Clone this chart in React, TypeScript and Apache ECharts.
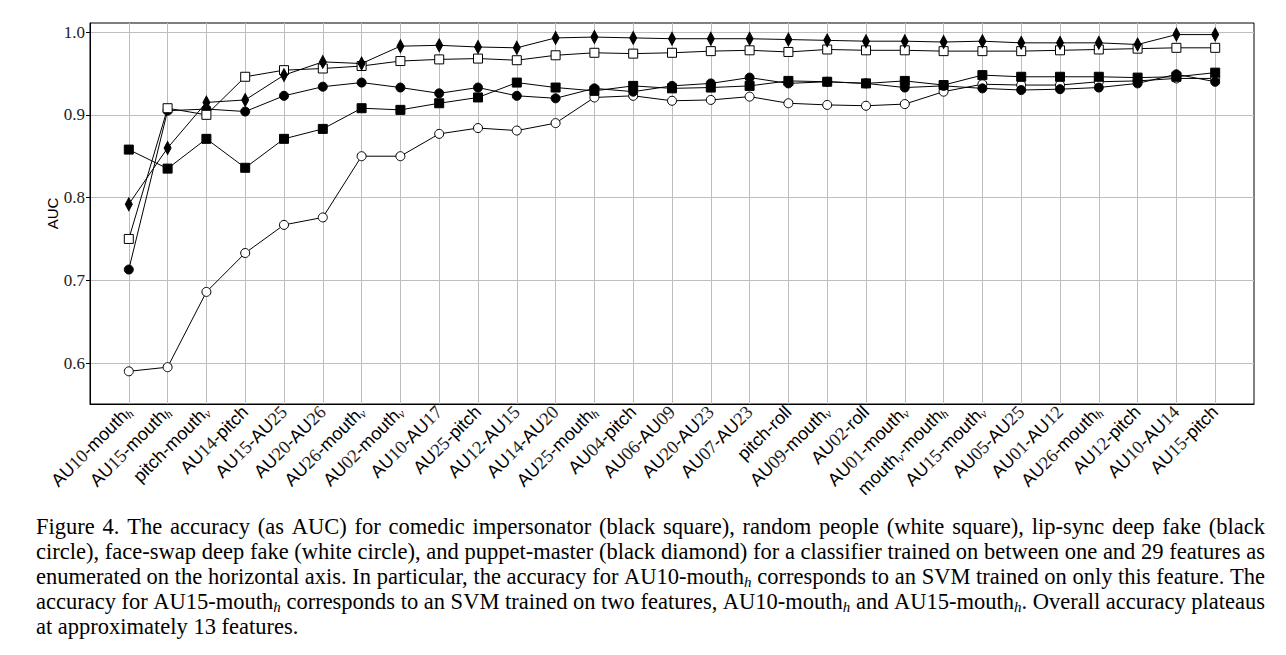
import React, { useEffect, useRef } from "react";
import * as echarts from "echarts";

const features = [
  "AU10-mouth_h", "AU15-mouth_h", "pitch-mouth_v", "AU14-pitch", "AU15-AU25", "AU20-AU26",
  "AU26-mouth_v", "AU02-mouth_v", "AU10-AU17", "AU25-pitch", "AU12-AU15", "AU14-AU20",
  "AU25-mouth_h", "AU04-pitch", "AU06-AU09", "AU20-AU23", "AU07-AU23", "pitch-roll",
  "AU09-mouth_v", "AU02-roll", "AU01-mouth_v", "mouth_v-mouth_h", "AU15-mouth_v", "AU05-AU25",
  "AU01-AU12", "AU26-mouth_h", "AU12-pitch", "AU10-AU14", "AU15-pitch",
];

// black square
const comedicImpersonator = [
  0.858, 0.835, 0.871, 0.836, 0.871, 0.883, 0.908, 0.906, 0.914, 0.921, 0.939, 0.933, 0.929, 0.935, 0.932,
  0.933, 0.935, 0.941, 0.940, 0.938, 0.941, 0.936, 0.948, 0.946, 0.946, 0.946, 0.945, 0.946, 0.951,
];
// white square
const randomPeople = [
  0.750, 0.908, 0.900, 0.946, 0.954, 0.956, 0.959, 0.965, 0.967, 0.968, 0.966, 0.972, 0.975, 0.974, 0.975,
  0.977, 0.978, 0.976, 0.979, 0.978, 0.978, 0.977, 0.977, 0.977, 0.978, 0.979, 0.980, 0.981, 0.981,
];
// black circle
const lipSync = [
  0.713, 0.905, 0.907, 0.904, 0.923, 0.934, 0.939, 0.933, 0.926, 0.933, 0.923, 0.920, 0.932, 0.928, 0.935,
  0.938, 0.945, 0.938, 0.940, 0.938, 0.933, 0.935, 0.932, 0.930, 0.931, 0.933, 0.938, 0.949, 0.940,
];
// white circle
const faceSwap = [
  0.590, 0.595, 0.686, 0.733, 0.767, 0.776, 0.850, 0.850, 0.877, 0.884, 0.881, 0.890, 0.921, 0.923, 0.917,
  0.918, 0.922, 0.914, 0.912, 0.911, 0.913, 0.928, 0.937, 0.936, 0.936, 0.940, 0.941, 0.944, 0.944,
];
// black diamond
const puppetMaster = [
  0.792, 0.860, 0.915, 0.918, 0.948, 0.964, 0.962, 0.983, 0.984, 0.982, 0.981, 0.993, 0.994, 0.993, 0.992,
  0.992, 0.992, 0.991, 0.990, 0.989, 0.989, 0.988, 0.989, 0.987, 0.987, 0.987, 0.985, 0.997, 0.997,
];

const yTicks = [0.6, 0.7, 0.8, 0.9, 1.0];
const yName = "AUC";

const captionLines = [
  "Figure 4. The accuracy (as AUC) for comedic impersonator (black square), random people (white square), lip-sync deep fake (black",
  "circle), face-swap deep fake (white circle), and puppet-master (black diamond) for a classifier trained on between one and 29 features as",
  "enumerated on the horizontal axis. In particular, the accuracy for AU10-mouth_h corresponds to an SVM trained on only this feature. The",
  "accuracy for AU15-mouth_h corresponds to an SVM trained on two features, AU10-mouth_h and AU15-mouth_h. Overall accuracy plateaus",
  "at approximately 13 features.",
];

const SANS = '"Liberation Sans", Arial, sans-serif';
const SERIF = '"Liberation Serif", "Times New Roman", serif';
const CAP_FS = 22.5;
const CAP_SUB_FS = 15;

function richLabel(s: string): string {
  const out: string[] = [];
  const re = /(\d+)|_([a-z])|([^\d_]+)/g;
  let m: RegExpExecArray | null;
  while ((m = re.exec(s))) {
    if (m[1]) out.push(`{d|${m[1]}}`);
    else if (m[2]) out.push(`{sub|${m[2]}}`);
    else out.push(`{s|${m[3]}}`);
  }
  return out.join("");
}

function captionRich(w: string): string {
  const parts = w.split(/_([a-z])/);
  return parts
    .map((p, i) => (p === "" ? "" : i % 2 ? `{ci|${p}}` : `{c|${p}}`))
    .join("");
}

export default function App() {
  const ref = useRef<HTMLDivElement>(null);

  useEffect(() => {
    if (!ref.current) return;
    const chart = echarts.init(ref.current, undefined, { renderer: "svg" });

    const canvas = document.createElement("canvas");
    const ctx = canvas.getContext("2d")!;
    const wordWidth = (w: string) => {
      let total = 0;
      w.split(/_([a-z])/).forEach((p, i) => {
        ctx.font = i % 2 ? `italic ${CAP_SUB_FS}px ${SERIF}` : `${CAP_FS}px ${SERIF}`;
        total += ctx.measureText(p).width;
      });
      return total;
    };

    const capLeft = 36;
    const capRight = 1265;
    const capTop = 526.5;
    const capStep = 24.9;
    const captionRichStyles = {
      c: { fontSize: CAP_FS, fontFamily: SERIF, color: "#000", lineHeight: 26 },
      ci: { fontSize: CAP_SUB_FS, fontFamily: SERIF, fontStyle: "italic", color: "#000", lineHeight: 15, verticalAlign: "bottom" },
    };
    const graphics: any[] = [];
    captionLines.forEach((line, li) => {
      const words = line.split(" ");
      const widths = words.map(wordWidth);
      const sum = widths.reduce((a, b) => a + b, 0);
      const last = li === captionLines.length - 1;
      ctx.font = `${CAP_FS}px ${SERIF}`;
      const gap = last ? ctx.measureText(" ").width : (capRight - capLeft - sum) / (words.length - 1);
      let x = capLeft;
      words.forEach((w, i) => {
        graphics.push({
          type: "text",
          x,
          y: capTop + li * capStep,
          silent: true,
          style: {
            text: captionRich(w),
            rich: captionRichStyles,
            fontSize: CAP_FS,
            fontFamily: SERIF,
            fill: "#000",
            align: "left",
            verticalAlign: "middle",
          },
        });
        x += widths[i] + gap;
      });
    });

    const idx = features.map((_, i) => i);
    const mk = (name: string, data: number[], symbol: string, size: any, fill: string, z: number) => ({
      name,
      type: "line",
      data: data.map((v, i) => [i, v]),
      symbol,
      symbolSize: size,
      showSymbol: true,
      showAllSymbol: true,
      lineStyle: { color: "#000", width: 1 },
      itemStyle: { color: fill, borderColor: "#000", borderWidth: 1, opacity: 1 },
      emphasis: { disabled: true },
      z,
    });

    chart.setOption({
      animation: false,
      backgroundColor: "#fff",
      grid: {
        left: 90,
        right: 32,
        top: 23,
        bottom: 251,
        show: true,
        borderColor: "#000",
        borderWidth: 1,
        backgroundColor: "transparent",
      },
      xAxis: {
        type: "value",
        min: -1,
        max: 29,
        axisLine: { show: true, onZero: false, lineStyle: { color: "#000", width: 1 } },
        axisTick: { show: false, customValues: idx },
        splitLine: { show: true, lineStyle: { color: "#bdbdbd", width: 1 } },
        axisLabel: {
          customValues: idx,
          rotate: 45,
          margin: 5,
          color: "#000",
          formatter: (v: number) => richLabel(features[Math.round(v)] || ""),
          rich: {
            s: { fontFamily: SANS, fontSize: 18, color: "#000", lineHeight: 20 },
            d: { fontFamily: SERIF, fontSize: 18.5, color: "#222", lineHeight: 20 },
            sub: { fontFamily: SERIF, fontSize: 12, fontStyle: "italic", color: "#000", lineHeight: 11, verticalAlign: "bottom" },
          },
        },
      },
      yAxis: {
        type: "value",
        min: 0.5505,
        max: 1.011,
        name: yName,
        nameLocation: "middle",
        nameGap: 30,
        nameRotate: 90,
        nameMoveOverlap: false,
        nameTextStyle: { fontFamily: SANS, fontSize: 15, color: "#000" },
        axisLine: { show: true, onZero: false, lineStyle: { color: "#000", width: 1 } },
        axisTick: { show: true, inside: false, length: 4, lineStyle: { color: "#000" }, customValues: yTicks },
        splitLine: { show: true, lineStyle: { color: "#bdbdbd", width: 1 } },
        axisLabel: {
          customValues: yTicks,
          margin: 5,
          fontFamily: SERIF,
          fontSize: 17,
          color: "#222",
          formatter: (v: number) => `{n|${v.toFixed(1)}}`,
          rich: {
            n: { fontFamily: SERIF, fontSize: 17, color: "#222" },
          },
        },
      },
      series: [
        mk("face-swap deep fake", faceSwap, "circle", 9, "#fff", 2),
        mk("lip-sync deep fake", lipSync, "circle", 9, "#000", 3),
        mk("comedic impersonator", comedicImpersonator, "rect", 9, "#000", 4),
        mk("random people", randomPeople, "rect", 9, "#fff", 5),
        mk("puppet-master", puppetMaster, "diamond", [7, 13], "#000", 6),
      ],
      graphic: graphics,
    });

    return () => chart.dispose();
  }, []);

  return (
    <div
      ref={ref}
      style={{ position: "fixed", left: 0, top: 0, width: 1286, height: 655, background: "#fff" }}
    />
  );
}
